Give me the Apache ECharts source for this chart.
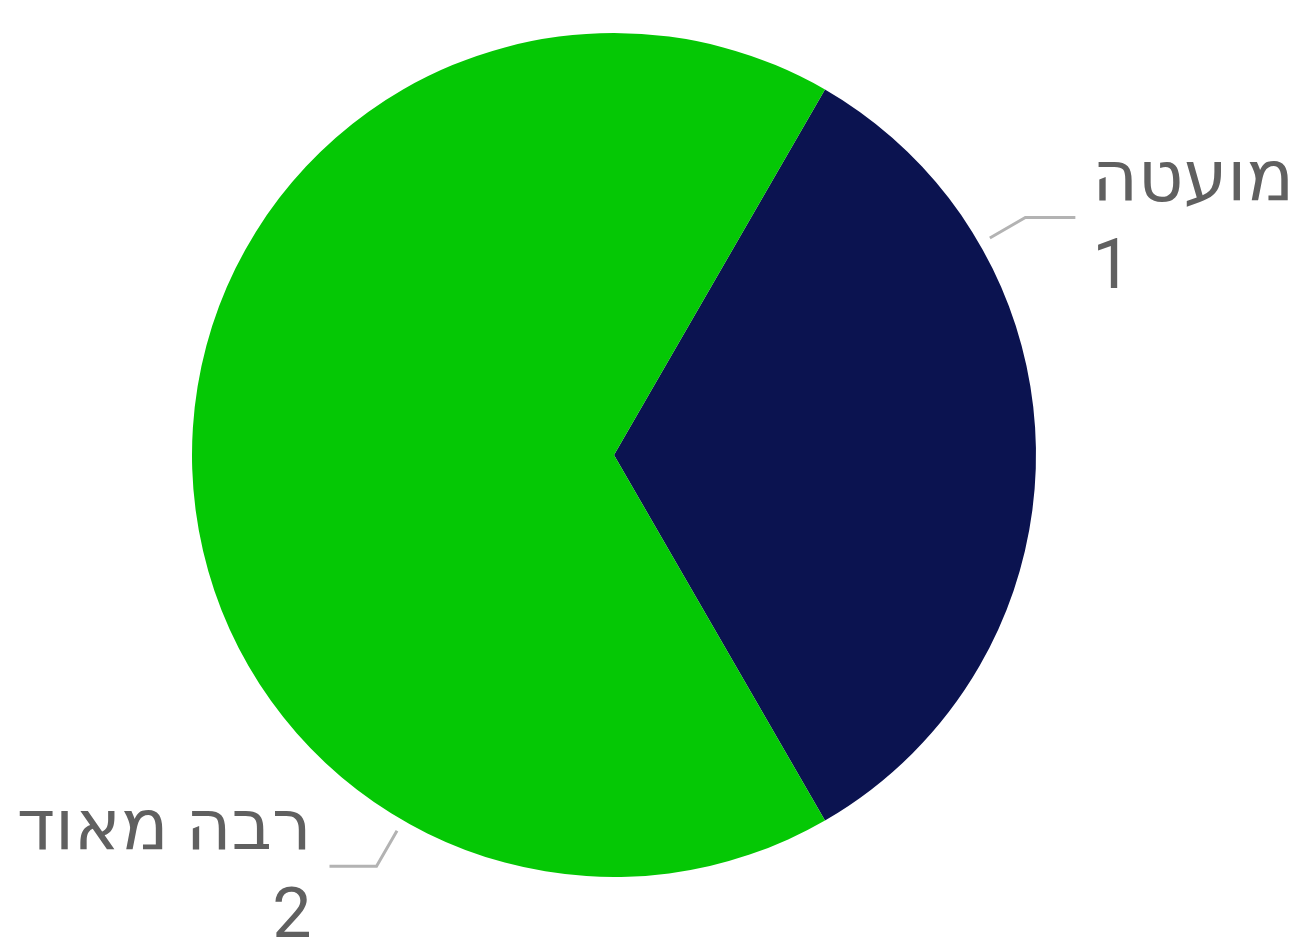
<!DOCTYPE html>
<html>
<head>
<meta charset="utf-8">
<script src="https://cdn.jsdelivr.net/npm/echarts@6/dist/echarts.min.js"></script>
<style>
  html, body { margin: 0; padding: 0; background: #fff; }
  #chart { width: 1295px; height: 950px; }
</style>
</head>
<body>
<div id="chart"></div>
<script>
const categories = ['מועטה', 'רבה מאוד']
const values = [1, 2]
const colors = ['#0b1350', '#05c805']

const center = [614, 455]
const radius = 422
const startAngle = 60

const chart = echarts.init(document.getElementById('chart'))

const total = values.reduce((a, b) => a + b, 0)

// labels sit a quarter of the way into each slice, like the original
function labelAngle(idx) {
  let before = 0
  for (let i = 0; i < idx; i++) before += values[i]
  const s = startAngle - 360 * before / total
  const span = 360 * values[idx] / total
  return (s - span * 0.25) * Math.PI / 180
}

chart.setOption({
  animation: false,
  color: colors,
  series: [{
    type: 'pie',
    center: center,
    radius: radius,
    startAngle: startAngle,
    clockwise: true,
    label: {
      show: true,
      formatter: '{b}\n{c}',
      fontFamily: 'Roboto, "DejaVu Sans"',
      fontSize: 70,
      lineHeight: 88,
      color: '#606060',
      overflow: 'none'
    },
    labelLine: {
      show: true,
      lineStyle: { color: '#b3b3b3', width: 3 }
    },
    labelLayout: function (params) {
      const a = labelAngle(params.dataIndex)
      const c = Math.cos(a), s = Math.sin(a)
      const right = c >= 0
      const p0 = [center[0] + (radius + 12) * c, center[1] - (radius + 12) * s]
      const p1 = [center[0] + (radius + 53) * c, center[1] - (radius + 53) * s]
      const p2 = [p1[0] + (right ? 50 : -47), p1[1]]
      return {
        x: p2[0] + (right ? 17 : -18),
        y: p2[1] + 9,
        align: right ? 'left' : 'right',
        verticalAlign: 'middle',
        labelLinePoints: [p0, p1, p2]
      }
    },
    data: categories.map((name, i) => ({ name: name, value: values[i] }))
  }]
})
</script>
</body>
</html>
